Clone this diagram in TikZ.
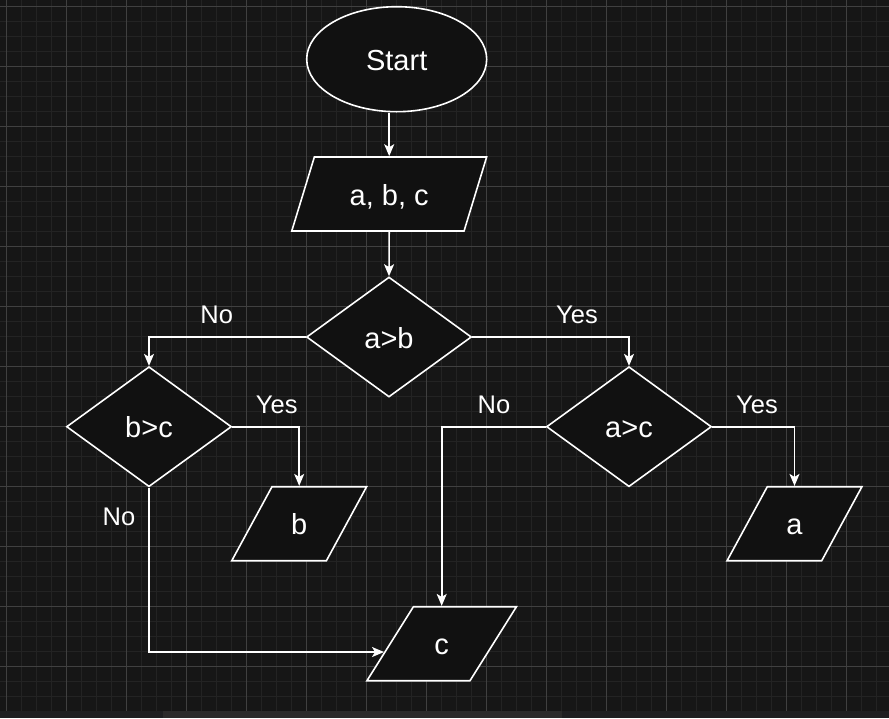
\documentclass[tikz,border=0pt]{standalone}
\usepackage{fontspec}
\setmainfont{Liberation Sans}
\usetikzlibrary{shapes.geometric,arrows.meta,calc}
\definecolor{canvas}{HTML}{161616}
\definecolor{gridminor}{HTML}{232323}
\definecolor{gridmajor}{HTML}{404040}
\definecolor{shapefill}{HTML}{111111}
\definecolor{barbg}{HTML}{1E1F21}
\definecolor{barthumb}{HTML}{2B2B2B}
\tikzset{
  every node/.style={text=white},
  base/.style={draw=white, line width=1.6pt, fill=shapefill, inner sep=0pt,
    font=\fontsize{29}{34}\selectfont, text height=26pt, text depth=3.5pt},
  terminal/.style={base, ellipse, minimum width=180pt, minimum height=105pt},
  decision/.style={base, diamond, minimum width=165pt, minimum height=120pt},
  io/.style={base, trapezium, trapezium left angle=68, trapezium right angle=112,
    trapezium stretches=true, minimum height=74pt},
  flow/.style={draw=white, line width=1.6pt,
    -{Stealth[length=12pt,width=10pt,inset=3pt]}},
  lbl/.style={font=\fontsize{25.5}{30}\selectfont, inner sep=0pt}
}
\begin{document}
\begin{tikzpicture}[x=1pt,y=-1pt]
% canvas and background grid
\fill[canvas] (0,0) rectangle (889,718);
\useasboundingbox (0,0) rectangle (889,718);
\foreach \k in {0,...,59}{
  \pgfmathsetmacro{\p}{6.7+15*\k}
  \draw[gridminor, line width=1pt] (\p,0) -- (\p,711);
}
\foreach \k in {0,...,47}{
  \pgfmathsetmacro{\p}{6.7+15*\k}
  \draw[gridminor, line width=1pt] (0,\p) -- (889,\p);
}
\foreach \k in {0,...,14}{
  \pgfmathsetmacro{\p}{6.7+60*\k}
  \draw[gridmajor, line width=1pt] (\p,0) -- (\p,711);
}
\foreach \k in {0,...,11}{
  \pgfmathsetmacro{\p}{6.7+60*\k}
  \draw[gridmajor, line width=1pt] (0,\p) -- (889,\p);
}
% scroll bar along the bottom edge
\fill[barbg] (0,711) rectangle (889,718);
\fill[barthumb] (163,711) rectangle (562,718);

% nodes
\node[terminal] (start) at (396.7,59.2) {Start};
\node[io, minimum width=195pt] (abc) at (389.2,194) {a, b, c};
\node[decision] (ab) at (389,337) {a>b};
\node[decision] (bc) at (149,426.7) {b>c};
\node[decision] (ac) at (629,426.7) {a>c};
\node[io, minimum width=135pt] (outb) at (299.2,523.7) {b};
\node[io, minimum width=135pt] (outa) at (794.5,523.7) {a};
\node[io, minimum width=150pt] (outc) at (441.7,643.7) {c};
\coordinate (cin) at ($(outc.bottom left corner)!0.39!(outc.top left corner)$);

% connectors
\draw[flow] (start.south -| abc.north) -- (abc.north);
\draw[flow] (abc.south) -- (ab.north);
\draw[flow] (ab.west) -| (bc.north);
\draw[flow] (ab.east) -| (ac.north);
\draw[flow] (bc.east) -| (outb.north);
\draw[flow] (bc.south) |- (cin);
\draw[flow] (ac.west) -| (outc.north);
\draw[flow] (ac.east) -| (outa.north);

% branch labels
\node[lbl] (l1) at (216.7,315) {No};
\node[lbl] (l2) at (577,315) {Yes};
\node[lbl] (l3) at (276.7,405) {Yes};
\node[lbl] (l4) at (119,517) {No};
\node[lbl] (l5) at (494,405) {No};
\node[lbl] (l6) at (757,405) {Yes};
\end{tikzpicture}
\end{document}
